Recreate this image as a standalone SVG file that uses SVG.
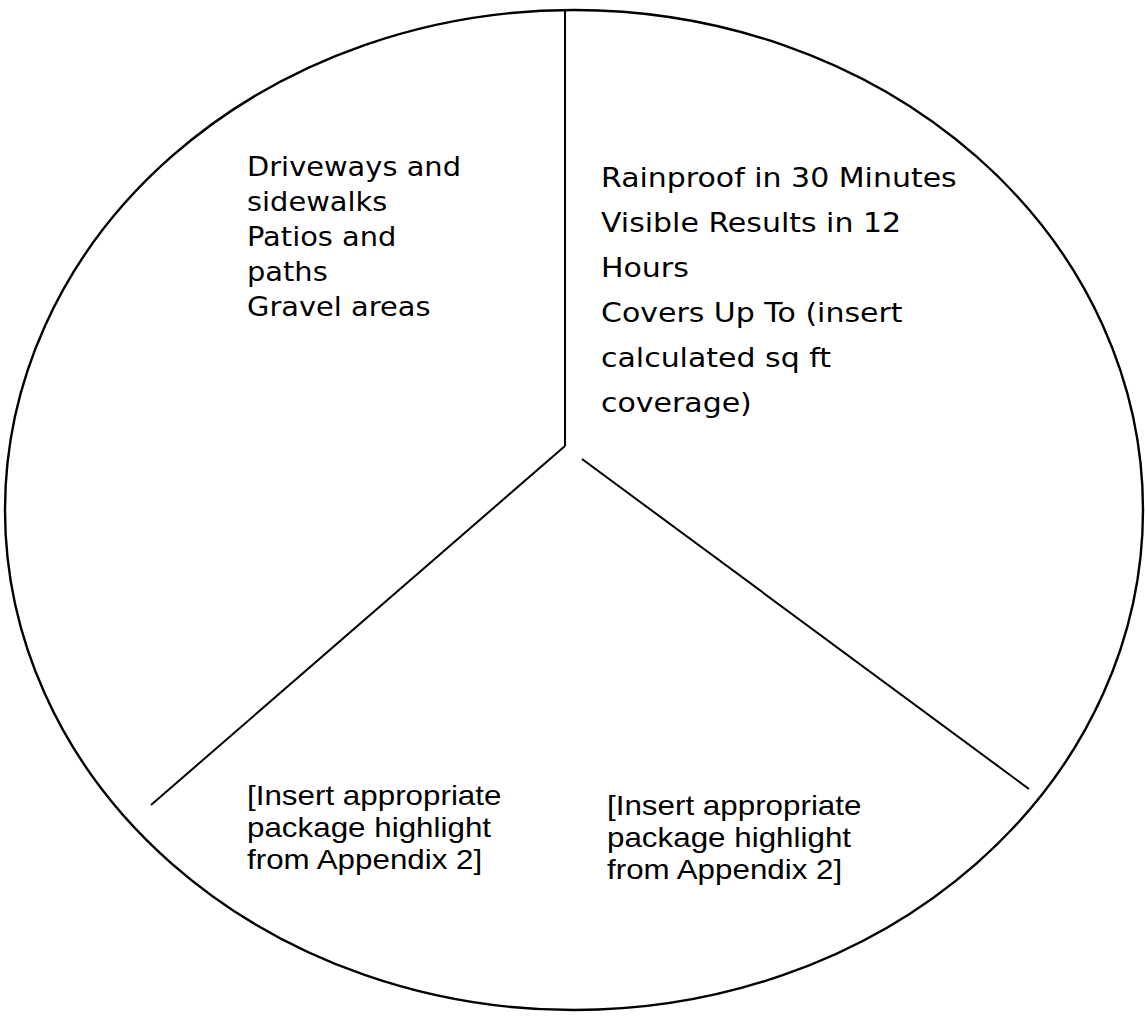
<svg xmlns="http://www.w3.org/2000/svg" width="1145" height="1021" viewBox="0 0 1145 1021">
<style>
.outline{fill:none;stroke:#000;stroke-width:2.4}
.div{fill:none;stroke:#000;stroke-width:2}
.hand{font-family:"DejaVu Sans","Liberation Sans",sans-serif;font-size:27px;fill:#000}
.plain{font-family:"Liberation Sans",Arial,sans-serif;font-size:28px;fill:#000}
</style>
<rect width="1145" height="1021" fill="#fff"/>
<g id="pie">
<ellipse class="outline" cx="574" cy="510" rx="569" ry="500"/>
</g>
<g id="connectors">
<line class="div" x1="565" y1="9" x2="565" y2="446"/>
<line class="div" x1="565" y1="446" x2="151" y2="805"/>
<line class="div" x1="582" y1="459" x2="1029" y2="789"/>
</g>
<g id="sector-uses" transform="translate(247 0) scale(1.07 1)">
<text class="hand" x="0" y="176">Driveways and</text>
<text class="hand" x="0" y="211">sidewalks</text>
<text class="hand" x="0" y="246">Patios and</text>
<text class="hand" x="0" y="281">paths</text>
<text class="hand" x="0" y="316">Gravel areas</text>
</g>
<g id="sector-benefits" transform="translate(601 0) scale(1.11 1)">
<text class="hand" x="0" y="187">Rainproof in 30 Minutes</text>
<text class="hand" x="0" y="232">Visible Results in 12</text>
<text class="hand" x="0" y="277">Hours</text>
<text class="hand" x="0" y="322">Covers Up To (insert</text>
<text class="hand" x="0" y="367">calculated sq ft</text>
<text class="hand" x="0" y="412">coverage)</text>
</g>
<g id="sector-left-bottom" transform="translate(247 0) scale(1.12 1)">
<text class="plain" x="0" y="805">[Insert appropriate</text>
<text class="plain" x="0" y="837">package highlight</text>
<text class="plain" x="0" y="869">from Appendix 2]</text>
</g>
<g id="sector-right-bottom" transform="translate(607 0) scale(1.12 1)">
<text class="plain" x="0" y="815">[Insert appropriate</text>
<text class="plain" x="0" y="847">package highlight</text>
<text class="plain" x="0" y="879">from Appendix 2]</text>
</g>
</svg>
